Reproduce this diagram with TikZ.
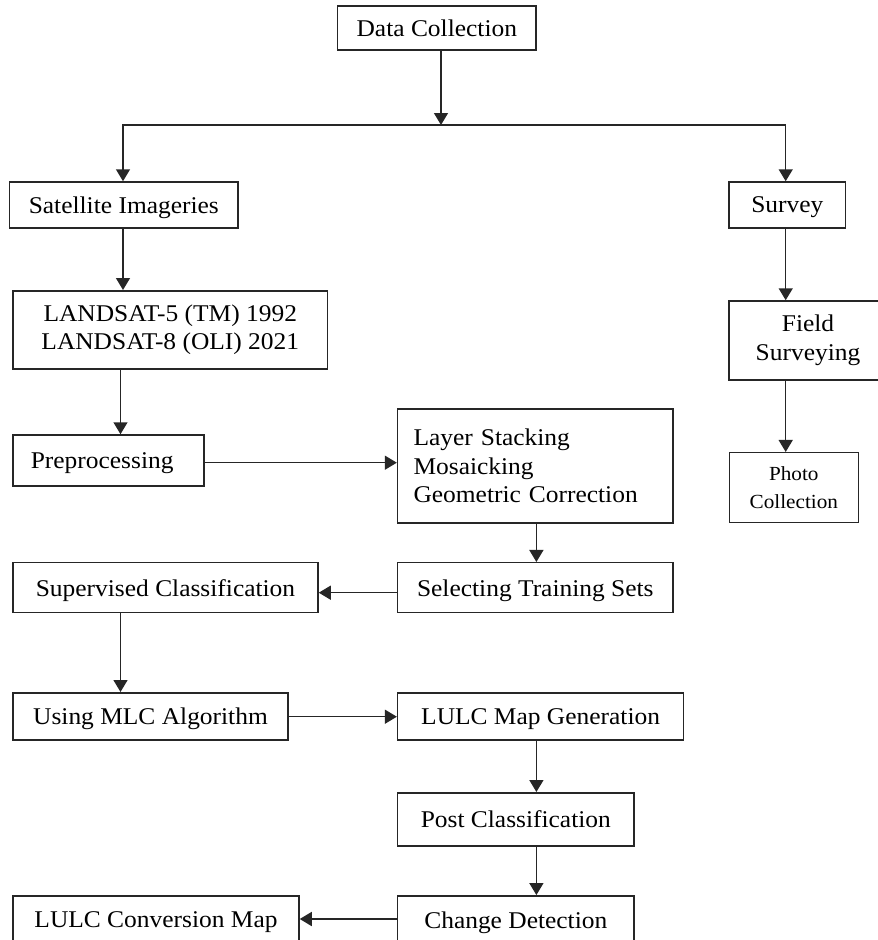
\documentclass[tikz,border=0pt]{standalone}
\usepackage{fontspec}
\setmainfont{Liberation Serif}[FakeStretch=1.06]
\usetikzlibrary{arrows.meta}
\begin{document}
\begin{tikzpicture}[x=1pt,y=-1pt,
  box/.style={draw=black!85, line width=1.5pt, inner sep=0pt, fill=white,
    font=\fontsize{24}{28.5}\selectfont, align=center},
  one/.style={text depth=0pt},
  small/.style={font=\fontsize{20}{28.5}\selectfont},
  arr/.style={draw=black!85, line width=1.5pt, -{Triangle[length=12pt,width=14pt]}}]
\useasboundingbox (0,0) rectangle (878,940);
\clip (0,0) rectangle (878,940);
\fill[white] (0,0) rectangle (878,940);
% nodes
\node[box, one, minimum width=198.5pt, minimum height=44.3pt] (dc) at (436.8,27.9) {Data Collection};
\node[box, one, minimum width=228.5pt, minimum height=46pt] (sat) at (123.8,205) {Satellite Imageries};
\node[box, one, minimum width=116.5pt, minimum height=46pt] (sur) at (787.3,205) {Survey};
\node[box, minimum width=314.5pt, minimum height=78.3pt] (land) at (170.3,329.9) {LANDSAT-5 (TM) 1992\\LANDSAT-8 (OLI) 2021};
\node[box, minimum width=157.7pt, minimum height=79pt] (field) at (808,340.5) {Field\\Surveying};
\node[box, one, minimum width=191pt, minimum height=51pt, align=left, text width=173pt, inner xsep=9pt] (pre) at (108.5,460.5) {\hspace*{8.8pt}Preprocessing};
\node[box, minimum width=275.5pt, minimum height=113.7pt, align=left, text width=243.5pt, inner xsep=16pt] (layer) at (535.3,465.9) {Layer Stacking\\Mosaicking\\Geometric Correction};
\node[box, small, minimum width=129pt, minimum height=69.8pt] (photo) at (793.8,487.6) {Photo\\Collection};
\node[box, one, minimum width=305pt, minimum height=50pt] (sup) at (165.5,587.7) {Supervised Classification};
\node[box, one, minimum width=275.5pt, minimum height=50pt] (sel) at (535.3,587.7) {Selecting Training Sets};
\node[box, one, minimum width=275pt, minimum height=47.3pt] (mlc) at (150.5,716.4) {Using MLC Algorithm};
\node[box, one, minimum width=286pt, minimum height=47.3pt] (lmap) at (540.6,716.4) {LULC Map Generation};
\node[box, one, minimum width=236.5pt, minimum height=53.3pt] (post) at (515.8,819.4) {Post Classification};
\node[box, one, minimum width=236.5pt, minimum height=48pt] (chg) at (515.8,919.8) {Change Detection};
\node[box, one, minimum width=286pt, minimum height=48pt] (conv) at (156,919.8) {LULC Conversion Map};
% helper coordinates
\coordinate (jn) at (441,125);
\coordinate (c0) at (123,0);
\coordinate (c1) at (120.5,0);
\coordinate (c2) at (536.4,0);
\coordinate (c3) at (785.7,0);
\coordinate (r1) at (0,462.7);
\coordinate (r2) at (0,592.7);
\coordinate (r3) at (0,716.7);
\coordinate (r4) at (0,919);
% connectors
\draw[arr] (jn |- dc.south) -- (jn);
\draw[arr] (jn) -| (c0 |- sat.north);
\draw[arr] (jn) -| (c3 |- sur.north);
\draw[arr] (c0 |- sat.south) -- (c0 |- land.north);
\draw[arr] (c1 |- land.south) -- (c1 |- pre.north);
\draw[arr] (pre.east |- r1) -- (layer.west |- r1);
\draw[arr] (c2 |- layer.south) -- (c2 |- sel.north);
\draw[arr] (sel.west |- r2) -- (sup.east |- r2);
\draw[arr] (c1 |- sup.south) -- (c1 |- mlc.north);
\draw[arr] (mlc.east |- r3) -- (lmap.west |- r3);
\draw[arr] (c2 |- lmap.south) -- (c2 |- post.north);
\draw[arr] (c2 |- post.south) -- (c2 |- chg.north);
\draw[arr] (chg.west |- r4) -- (conv.east |- r4);
\draw[arr] (c3 |- sur.south) -- (c3 |- field.north);
\draw[arr] (c3 |- field.south) -- (c3 |- photo.north);
\end{tikzpicture}
\end{document}
